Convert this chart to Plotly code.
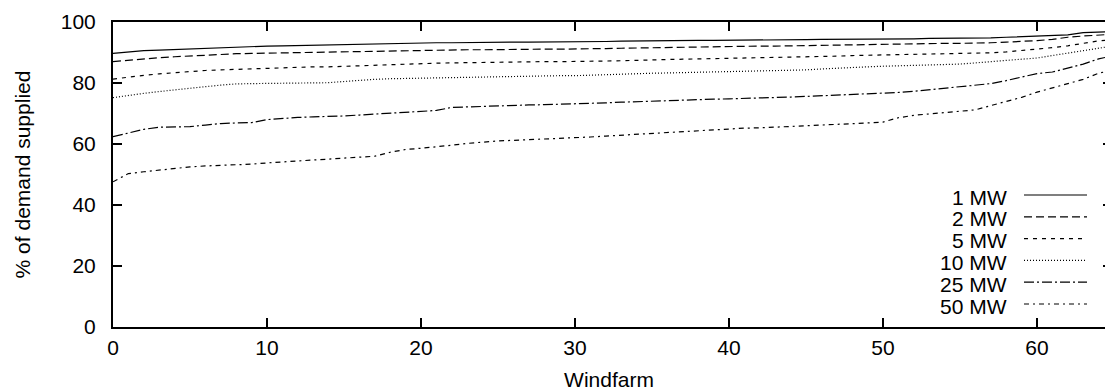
import plotly.graph_objects as go

# Windfarm index (ranked by % of demand supplied)
windfarm = list(range(66))

supply_1mw = [89.7, 90.2, 90.6, 90.8, 91.0, 91.2, 91.4, 91.6, 91.9, 92.0,
              92.1, 92.2, 92.3, 92.5, 92.7, 92.8, 92.9, 93.0, 93.0, 93.1,
              93.1, 93.2, 93.2, 93.3, 93.3, 93.3, 93.4, 93.4, 93.4, 93.4,
              93.4, 93.5, 93.6, 93.7, 93.8, 93.8, 93.9, 93.9, 94.0, 94.0,
              94.0, 94.0, 94.1, 94.1, 94.2, 94.2, 94.3, 94.3, 94.4, 94.4,
              94.5, 94.5, 94.5, 94.6, 94.6, 94.6, 94.7, 94.8, 95.0, 95.2,
              95.4, 95.5, 95.8, 96.5, 96.7, 96.9]
supply_2mw = [87.0, 87.5, 87.9, 88.3, 88.6, 88.9, 89.2, 89.4, 89.6, 89.7,
              89.8, 89.9, 89.9, 90.0, 90.0, 90.2, 90.3, 90.4, 90.5, 90.6,
              90.7, 90.8, 90.8, 90.9, 90.9, 91.0, 91.0, 91.0, 91.1, 91.1,
              91.1, 91.2, 91.3, 91.4, 91.5, 91.6, 91.7, 91.8, 91.9, 92.0,
              92.0, 92.1, 92.1, 92.1, 92.2, 92.3, 92.4, 92.5, 92.6, 92.7,
              92.8, 92.8, 92.9, 92.9, 93.0, 93.0, 93.0, 93.2, 93.4, 93.6,
              93.9, 94.3, 95.0, 95.4, 95.7, 96.0]
supply_5mw = [81.3, 82.0, 82.5, 83.0, 83.4, 83.8, 84.1, 84.3, 84.5, 84.7,
              84.9, 85.1, 85.2, 85.3, 85.3, 85.5, 85.7, 85.9, 86.1, 86.3,
              86.4, 86.5, 86.6, 86.7, 86.8, 86.8, 86.9, 86.9, 87.0, 87.0,
              87.0, 87.1, 87.2, 87.3, 87.5, 87.6, 87.7, 87.8, 87.9, 88.0,
              88.1, 88.2, 88.3, 88.3, 88.3, 88.5, 88.7, 88.8, 89.0, 89.1,
              89.2, 89.3, 89.4, 89.5, 89.6, 89.7, 89.7, 89.9, 90.2, 90.6,
              91.1, 91.6, 92.2, 93.0, 93.8, 94.3]
supply_10mw = [75.2, 76.0, 76.6, 77.2, 77.8, 78.3, 78.8, 79.3, 79.7, 79.8,
               79.9, 80.0, 80.0, 80.1, 80.1, 80.5, 80.9, 81.2, 81.4, 81.5,
               81.6, 81.8, 81.9, 82.0, 82.1, 82.2, 82.2, 82.3, 82.3, 82.4,
               82.4, 82.6, 82.8, 83.0, 83.1, 83.2, 83.3, 83.4, 83.5, 83.6,
               83.7, 83.8, 83.8, 83.9, 84.0, 84.3, 84.6, 84.9, 85.1, 85.3,
               85.5, 85.6, 85.7, 85.8, 85.9, 86.2, 86.6, 87.0, 87.4, 87.8,
               88.2, 89.0, 89.8, 90.8, 91.6, 92.2]
supply_25mw = [62.4, 63.5, 64.8, 65.5, 65.6, 65.7, 66.2, 66.7, 66.9, 67.0,
               68.0, 68.4, 68.7, 68.9, 69.0, 69.2, 69.5, 69.8, 70.1, 70.4,
               70.6, 71.0, 72.0, 72.2, 72.4, 72.6, 72.7, 72.8, 72.9, 73.0,
               73.1, 73.3, 73.5, 73.7, 73.9, 74.1, 74.3, 74.5, 74.6, 74.7,
               74.8, 74.9, 75.0, 75.2, 75.4, 75.6, 75.8, 76.0, 76.2, 76.3,
               76.5, 76.9, 77.3, 77.8, 78.3, 78.8, 79.1, 79.8, 80.8, 82.0,
               83.1, 83.6, 84.8, 86.2, 87.9, 89.0]
supply_50mw = [47.6, 50.3, 50.9, 51.5, 52.0, 52.5, 52.8, 53.0, 53.1, 53.4,
               53.8, 54.1, 54.3, 54.6, 55.0, 55.3, 55.6, 56.0, 57.3, 58.2,
               58.6, 59.0, 59.6, 60.2, 60.7, 61.0, 61.2, 61.4, 61.5, 61.7,
               62.0, 62.3, 62.6, 62.9, 63.2, 63.4, 63.6, 64.0, 64.4, 64.7,
               65.0, 65.2, 65.3, 65.5, 65.7, 65.9, 66.2, 66.4, 66.6, 66.9,
               67.2, 68.6, 69.4, 69.8, 70.2, 70.6, 71.2, 72.6, 73.9, 75.3,
               77.0, 78.5, 79.8, 81.2, 83.2, 84.3]

series_names = ["1 MW", "2 MW", "5 MW", "10 MW", "25 MW", "50 MW"]
series_values = [supply_1mw, supply_2mw, supply_5mw, supply_10mw, supply_25mw, supply_50mw]
series_dash = ["solid", "8px,4px", "4px,5px", "1px,2px", "10px,3px,2px,3px", "5px,4px,2px,4px"]

y_ticks = [0, 20, 40, 60, 80, 100]
x_ticks = [0, 10, 20, 30, 40, 50, 60]

W, H = 1105, 392
ML, MR, MT, MB = 113, 0, 22, 65
PW, PH = W - ML - MR, H - MT - MB
PX_PER_UNIT = 15.4  # horizontal scale: pixels per windfarm
TICK_LEN = 9

FONT = "Liberation Sans, Arial, Helvetica, sans-serif"

fig = go.Figure()
for name, vals, dash in zip(series_names, series_values, series_dash):
    fig.add_trace(go.Scatter(
        x=windfarm, y=vals, mode="lines", name=name,
        line=dict(color="black", width=1.2, dash=dash),
        showlegend=False,
    ))


def px_to_paper_x(px):
    return (px - ML) / PW


def px_to_paper_y(py):
    return (H - MB - py) / PH


# Key: right-aligned labels with line samples to their right
for i, (name, dash) in enumerate(zip(series_names, series_dash)):
    row_y = 197 + 21.8 * i
    fig.add_annotation(
        x=px_to_paper_x(1009), y=px_to_paper_y(row_y), xref="paper", yref="paper",
        text=name, showarrow=False, xanchor="right", yanchor="middle",
        font=dict(family=FONT, size=21, color="black"),
    )
    fig.add_shape(
        type="line", xref="paper", yref="paper",
        x0=px_to_paper_x(1024), x1=px_to_paper_x(1087),
        y0=px_to_paper_y(row_y - 2), y1=px_to_paper_y(row_y - 2),
        line=dict(color="black", width=1.2, dash=dash),
    )

# Inside ticks on all borders, drawn as short segments
tick_style = dict(color="black", width=2)
for t in x_ticks[1:]:
    # bottom and top borders
    fig.add_shape(type="line", xref="x", yref="paper", layer="above",
                  x0=t, x1=t, y0=0, y1=px_to_paper_y(H - MB - TICK_LEN),
                  line=tick_style)
    fig.add_shape(type="line", xref="x", yref="paper", layer="above",
                  x0=t, x1=t, y0=1, y1=px_to_paper_y(MT + TICK_LEN),
                  line=tick_style)
for t in y_ticks[1:-1]:
    # left border
    fig.add_shape(type="line", xref="paper", yref="y", layer="above",
                  x0=0, x1=px_to_paper_x(ML + TICK_LEN), y0=t, y1=t,
                  line=tick_style)
    # right border sits just past the visible edge; only the tick tips show
    fig.add_shape(type="line", xref="paper", yref="y", layer="above",
                  x0=px_to_paper_x(1103), x1=px_to_paper_x(1112), y0=t, y1=t,
                  line=tick_style)

fig.update_layout(
    width=W, height=H,
    margin=dict(l=ML, r=MR, t=MT, b=MB, pad=0),
    paper_bgcolor="white", plot_bgcolor="white",
    font=dict(family=FONT, size=21, color="black"),
    xaxis=dict(
        range=[0, PW / PX_PER_UNIT],
        tickvals=x_ticks, ticktext=[str(v) for v in x_ticks],
        ticks="", showline=True, linecolor="black", linewidth=2, mirror=True,
        showgrid=False, zeroline=False,
        ticklabelstandoff=1,
        title=dict(text="Windfarm", standoff=14, font=dict(size=21)),
    ),
    yaxis=dict(
        range=[0, 100],
        tickvals=y_ticks, ticktext=[str(v) for v in y_ticks],
        ticks="", showline=True, linecolor="black", linewidth=2,
        showgrid=False, zeroline=False,
        ticklabelstandoff=11,
        title=dict(text="% of demand supplied", standoff=24, font=dict(size=21)),
    ),
)

fig.write_html("out.html")
